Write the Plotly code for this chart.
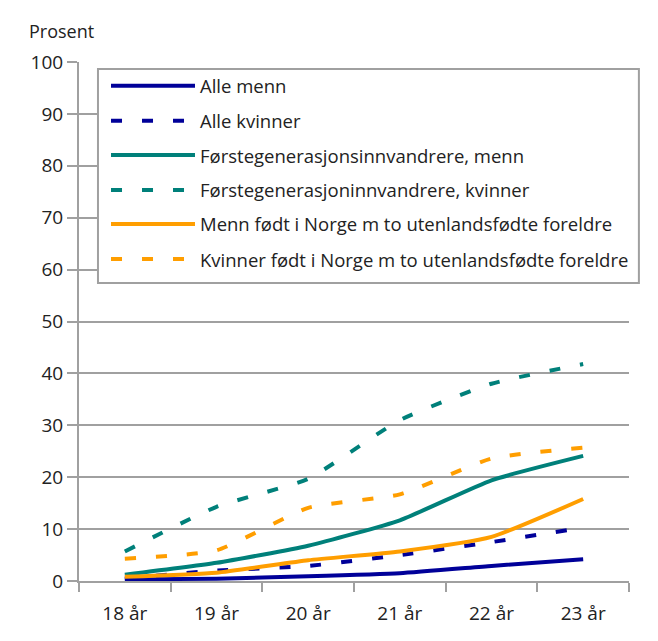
import plotly.graph_objects as go

# Kategorier (alder)
ages = ["18 år", "19 år", "20 år", "21 år", "22 år", "23 år"]

# Prosentandeler per gruppe
alle_menn = [0.3, 0.45, 0.9, 1.5, 2.9, 4.2]
alle_kvinner = [0.5, 2.0, 2.9, 5.0, 7.5, 10.3]
forste_menn = [1.2, 3.5, 6.8, 11.7, 19.4, 24.1]
forste_kvinner = [5.7, 14.3, 19.7, 31.0, 38.0, 41.8]
norge_menn = [0.8, 1.6, 4.0, 5.7, 8.5, 15.8]
norge_kvinner = [4.3, 5.9, 14.1, 16.7, 23.6, 25.7]

series_names = [
    "Alle menn",
    "Alle kvinner",
    "Førstegenerasjonsinnvandrere, menn",
    "Førstegenerasjoninnvandrere, kvinner",
    "Menn født i Norge m to utenlandsfødte foreldre",
    "Kvinner født i Norge m to utenlandsfødte foreldre",
]
series_values = [alle_menn, alle_kvinner, forste_menn, forste_kvinner, norge_menn, norge_kvinner]

NAVY = "#000099"
TEAL = "#00807A"
ORANGE = "#FF9E00"
GRID = "#A0A0A0"
DASH = "11px,20px"

styles = [
    (NAVY, "solid"), (NAVY, DASH),
    (TEAL, "solid"), (TEAL, DASH),
    (ORANGE, "solid"), (ORANGE, DASH),
]

fig = go.Figure()
for name, vals, (col, dash) in zip(series_names, series_values, styles):
    fig.add_trace(go.Scatter(
        x=ages, y=vals, name=name, mode="lines",
        line=dict(color=col, width=4, dash=dash, shape="spline", smoothing=0.5),
        showlegend=False,
    ))

# Egen tegnforklaring (boks med linjeprøver og tekst)
fig.add_shape(type="rect", xref="paper", yref="paper",
              x0=0.0345, x1=1.018, y0=0.574, y1=0.9865,
              line=dict(color=GRID, width=2), fillcolor="white", layer="above")
row_y = [0.9543, 0.8869, 0.8208, 0.7534, 0.6879, 0.6204]
for name, yy, (col, dash) in zip(series_names, row_y, styles):
    fig.add_shape(type="line", xref="paper", yref="paper",
                  x0=0.0582, x1=0.2109, y0=yy, y1=yy,
                  line=dict(color=col, width=4, dash=dash), layer="above")
    fig.add_annotation(xref="paper", yref="paper", x=0.2164, y=yy,
                       text=name, showarrow=False, xanchor="left", yanchor="middle",
                       font=dict(size=18.5, color="#222222"))

fig.add_annotation(xref="paper", yref="paper", x=-0.0945, y=1.0597,
                   text="Prosent", showarrow=False, xanchor="left", yanchor="middle",
                   font=dict(size=18, color="#222222"))

fig.update_layout(
    width=650, height=633,
    margin=dict(l=71, r=29, t=54, b=60),
    paper_bgcolor="white", plot_bgcolor="white",
    font=dict(family="Open Sans", size=18, color="#222222"),
)
fig.update_xaxes(
    type="category", range=[-0.5, 5.5],
    showline=True, linecolor=GRID, linewidth=2,
    ticks="outside", ticklen=9, tickcolor=GRID, tickwidth=2,
    tickson="boundaries", showgrid=False, ticklabelstandoff=14,
    tickfont=dict(size=19),
)
fig.update_yaxes(
    range=[0, 100], dtick=10,
    showline=True, linecolor=GRID, linewidth=2,
    ticks="outside", ticklen=10, tickcolor=GRID, tickwidth=2,
    showgrid=True, gridcolor=GRID, gridwidth=2,
    zeroline=False, tickfont=dict(size=19),
)

fig.write_html("out.html")
